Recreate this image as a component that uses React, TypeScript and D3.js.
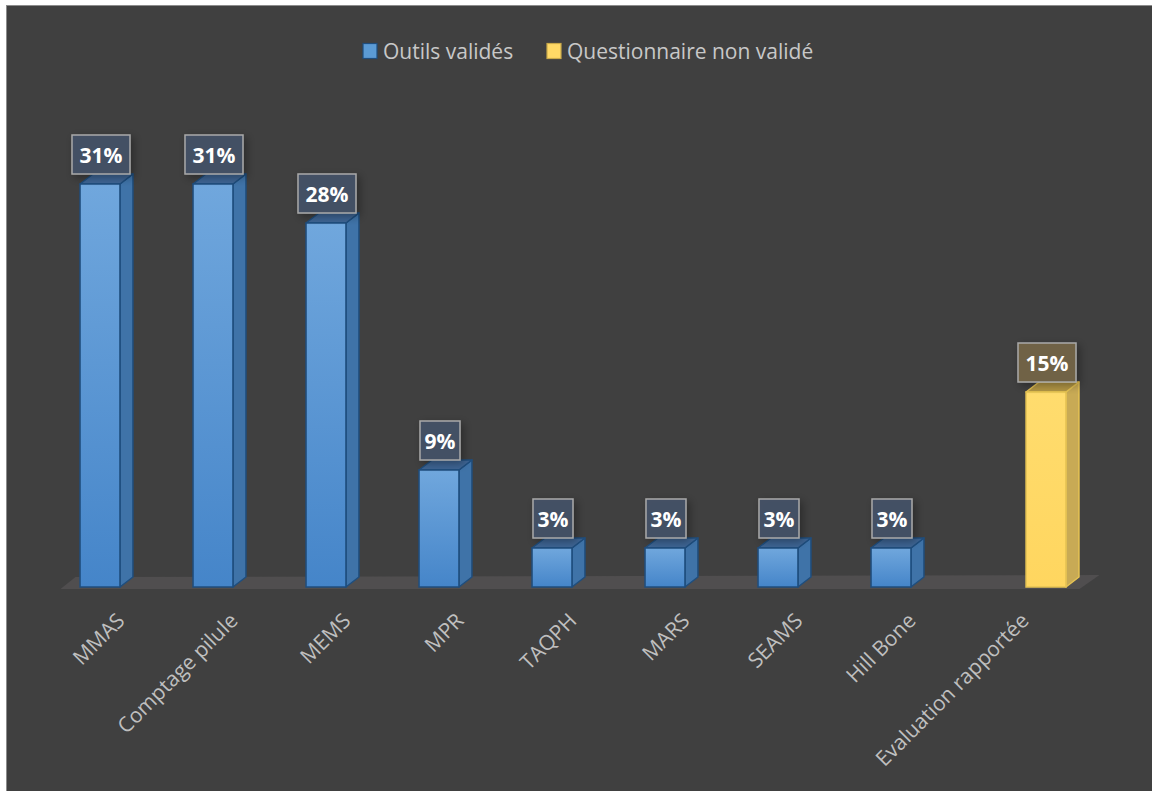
import * as d3 from "d3";

// categories, series and values
const categories = [
  "MMAS",
  "Comptage pilule",
  "MEMS",
  "MPR",
  "TAQPH",
  "MARS",
  "SEAMS",
  "Hill Bone",
  "Evaluation rapportée",
];
const seriesNames = ["Outils validés", "Questionnaire non validé"];
const valuesOutils: (number | null)[] = [31, 31, 28, 9, 3, 3, 3, 3, null];
const valuesQuestionnaire: (number | null)[] = [null, null, null, null, null, null, null, null, 15];

const WIDTH = 1152;
const HEIGHT = 791;
const FONT = "'Open Sans', 'Noto Sans', sans-serif";

// 3d depth offsets
const DX = 13;
const DY = -10;

const palette = {
  "Outils validés": {
    frontTop: "#70a7dd",
    frontBottom: "#4585c9",
    side: "#3f73a8",
    top: "#3e6594",
    stroke: "#1f4e7e",
    box: "#435166",
    legend: "#5b9bd5",
  },
  "Questionnaire non validé": {
    frontTop: "#ffdc6e",
    frontBottom: "#ffd65f",
    side: "#c8aa55",
    top: "#b39745",
    stroke: "#e6c353",
    box: "#736446",
    legend: "#ffd966",
  },
} as Record<string, any>;

export default function App() {
  const x0 = d3.scaleBand<string>().domain(categories).range([64.5, 1081.5]);
  const x1 = d3
    .scaleBand<string>()
    .domain(seriesNames)
    .range([0, x0.bandwidth()])
    .paddingInner(0.05)
    .paddingOuter(0.37);
  const y = d3.scaleLinear().domain([0, 31]).range([587, 184]);

  const bars: { cat: string; series: string; value: number }[] = [];
  categories.forEach((c, i) => {
    if (valuesOutils[i] != null) bars.push({ cat: c, series: seriesNames[0], value: valuesOutils[i] as number });
    if (valuesQuestionnaire[i] != null)
      bars.push({ cat: c, series: seriesNames[1], value: valuesQuestionnaire[i] as number });
  });

  const [rx0, rx1] = x0.range();
  const base = y(0);
  const floor = [
    [rx0 - 4, base + 2],
    [rx0 + 11, base - 10],
    [rx1 + 18, base - 12],
    [rx1 - 2, base + 2],
  ];

  const legendX = [363, 547];

  return (
    <div style={{ position: "absolute", left: 0, top: 0 }}>
      <svg width={WIDTH} height={HEIGHT} style={{ display: "block" }}>
        <defs>
          {seriesNames.map((s, i) => (
            <linearGradient key={s} id={`front-${i}`} x1="0" y1="0" x2="0" y2="1">
              <stop offset="0%" stopColor={palette[s].frontTop} />
              <stop offset="100%" stopColor={palette[s].frontBottom} />
            </linearGradient>
          ))}
          <filter id="shadow" x="-30%" y="-30%" width="160%" height="160%">
            <feDropShadow dx="3" dy="3" stdDeviation="4" floodColor="#000" floodOpacity="0.35" />
          </filter>
        </defs>

        <rect x={0} y={0} width={WIDTH} height={HEIGHT} fill="#ffffff" />
        <rect x={6.5} y={5.5} width={WIDTH} height={HEIGHT} fill="#404040" stroke="#8c8c8c" strokeWidth={1} />

        {/* legend */}
        {seriesNames.map((s, i) => (
          <g key={s}>
            <rect
              x={legendX[i]}
              y={43.5}
              width={14}
              height={15}
              fill={palette[s].legend}
              stroke={i === 0 ? "#1f4e7e" : "#c9a94a"}
              strokeWidth={1.2}
            />
            <text x={legendX[i] + 20} y={59} fill="#c8c8c8" fontFamily={FONT} fontSize={21}>
              {s}
            </text>
          </g>
        ))}

        {/* floor */}
        <polygon points={floor.map((p) => p.join(",")).join(" ")} fill="#504e4f" />

        {/* bars */}
        {bars.map((b) => {
          const c = palette[b.series];
          const si = seriesNames.indexOf(b.series);
          const xa = (x0(b.cat) as number) + (x1(b.series) as number);
          const xb = xa + x1.bandwidth();
          const yt = y(b.value);
          const side = [
            [xb, yt],
            [xb + DX, yt + DY],
            [xb + DX, base + DY],
            [xb, base],
          ];
          const top = [
            [xa, yt],
            [xa + DX, yt + DY],
            [xb + DX, yt + DY],
            [xb, yt],
          ];
          return (
            <g key={b.cat + b.series}>
              <polygon
                points={side.map((p) => p.join(",")).join(" ")}
                fill={c.side}
                stroke={c.stroke}
                strokeWidth={1.5}
                strokeLinejoin="round"
              />
              <polygon
                points={top.map((p) => p.join(",")).join(" ")}
                fill={c.top}
                stroke={c.stroke}
                strokeWidth={1.5}
                strokeLinejoin="round"
              />
              <rect
                x={xa}
                y={yt}
                width={xb - xa}
                height={base - yt}
                fill={`url(#front-${si})`}
                stroke={c.stroke}
                strokeWidth={1.5}
              />
            </g>
          );
        })}

        {/* data labels */}
        {bars.map((b) => {
          const c = palette[b.series];
          const xa = (x0(b.cat) as number) + (x1(b.series) as number);
          const cx = xa + x1.bandwidth() / 2 + 1;
          const label = `${b.value}%`;
          const w = 18 * label.length + 4;
          const h = 39;
          const bottom = y(b.value) + DY;
          return (
            <g key={"l" + b.cat + b.series}>
              <rect
                x={cx - w / 2}
                y={bottom - h}
                width={w}
                height={h}
                fill={c.box}
                fillOpacity={0.95}
                stroke="#a9a9a9"
                strokeWidth={1.5}
                filter="url(#shadow)"
              />
              <text
                x={cx}
                y={bottom - 11}
                textAnchor="middle"
                fill="#ffffff"
                fontFamily={FONT}
                fontWeight={700}
                fontSize={21}
              >
                {label}
              </text>
            </g>
          );
        })}

        {/* category axis labels */}
        {categories.map((c) => {
          const cx = (x0(c) as number) + x0.bandwidth() / 2 + 5;
          const cy = 622;
          return (
            <text
              key={"c" + c}
              transform={`translate(${cx},${cy}) rotate(-45)`}
              textAnchor="end"
              fill="#bfbfbf"
              fontFamily={FONT}
              fontSize={21}
            >
              {c}
            </text>
          );
        })}
      </svg>
    </div>
  );
}
